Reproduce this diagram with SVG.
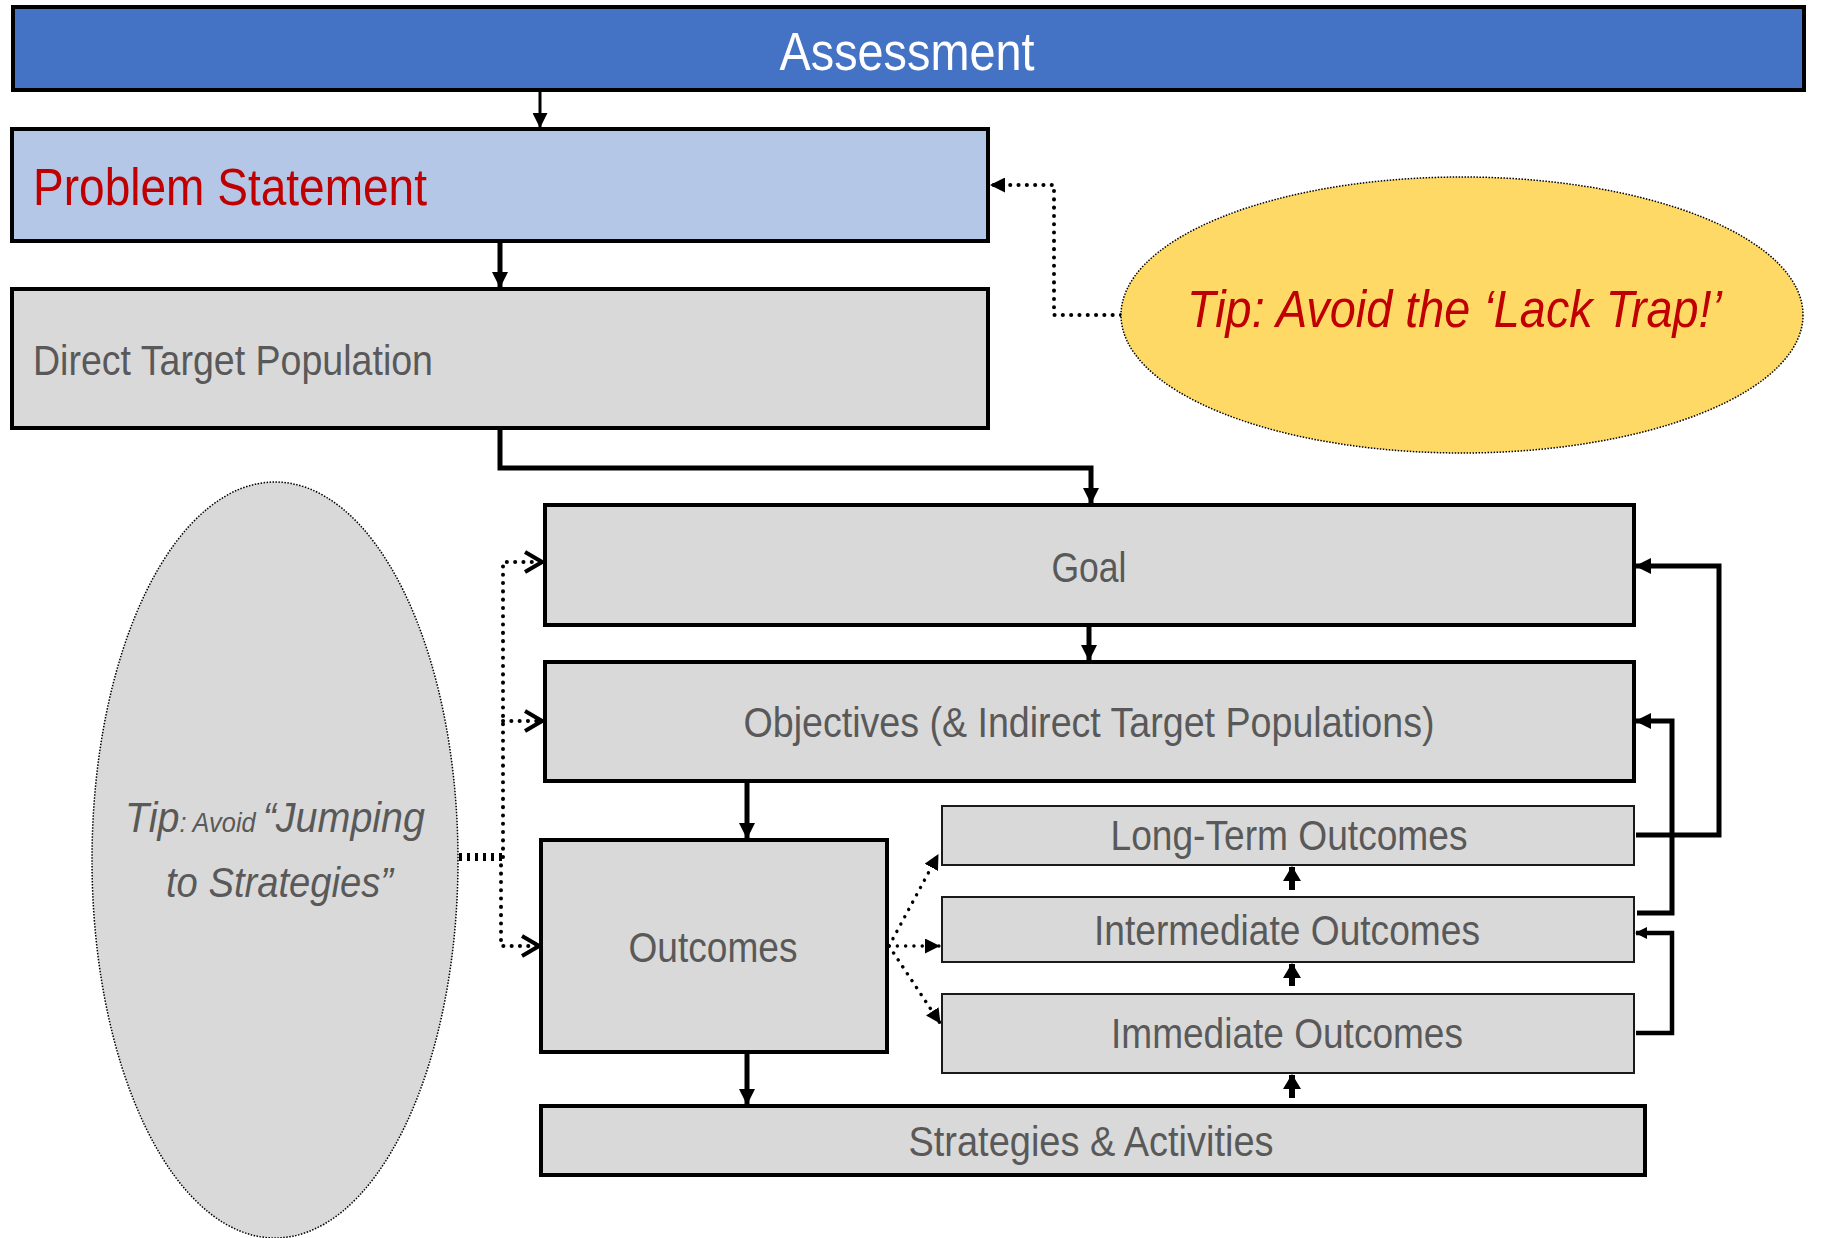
<svg xmlns="http://www.w3.org/2000/svg" width="1821" height="1238" viewBox="0 0 1821 1238">
<style>
.box{stroke:#000;stroke-width:4}
.gray{fill:#D9D9D9}
.thin{fill:#D9D9D9;stroke:#1a1a1a;stroke-width:2}
.lbl{font-family:"Liberation Sans",Arial,sans-serif;fill:#595959;font-size:42px}
.c{text-anchor:middle}
.solid{fill:none;stroke:#000;stroke-width:5}
.dot{fill:none;stroke:#000;stroke-width:4;stroke-linecap:round;stroke-dasharray:0.1 8.2}
.edge{stroke:#000;stroke-width:1.5;stroke-dasharray:1.5 1.5}
</style>
<defs>
<marker id="ah" markerUnits="userSpaceOnUse" viewBox="0 0 16 16" markerWidth="16" markerHeight="16" refX="15" refY="8" orient="auto"><path d="M0,0 L16,8 L0,16 z" fill="#000"/></marker>
<marker id="ahm" markerUnits="userSpaceOnUse" viewBox="0 0 15 15" markerWidth="15" markerHeight="15" refX="14" refY="7.5" orient="auto"><path d="M0,0 L15,7.5 L0,15 z" fill="#000"/></marker>
<marker id="ahu" markerUnits="userSpaceOnUse" viewBox="0 0 15 18" markerWidth="15" markerHeight="18" refX="14" refY="9" orient="auto"><path d="M0,0 L15,9 L0,18 z" fill="#000"/></marker>
<marker id="ahs" markerUnits="userSpaceOnUse" viewBox="0 0 12 12" markerWidth="12" markerHeight="12" refX="11" refY="6" orient="auto"><path d="M0,0 L12,6 L0,12 z" fill="#000"/></marker>
<marker id="chev" markerUnits="userSpaceOnUse" viewBox="0 0 20 24" markerWidth="20" markerHeight="24" refX="18" refY="12" orient="auto"><path d="M1,2 L18,12 L1,22" fill="none" stroke="#000" stroke-width="4"/></marker>
</defs>

<g id="connectors">
<path class="solid" style="stroke-width:3" d="M540 92 V127" marker-end="url(#ahm)"/>
<path class="solid" d="M500 242 V287" marker-end="url(#ah)"/>
<path class="solid" d="M500 428 V468 H1091 V503" marker-end="url(#ah)"/>
<path class="solid" d="M1089 626 V660" marker-end="url(#ah)"/>
<path class="solid" d="M747 782 V838" marker-end="url(#ah)"/>
<path class="solid" d="M747 1053 V1104" marker-end="url(#ah)"/>
<path class="solid" style="stroke-width:6" d="M1292 1098 V1075" marker-end="url(#ahu)"/>
<path class="solid" style="stroke-width:6" d="M1292 986 V964" marker-end="url(#ahu)"/>
<path class="solid" style="stroke-width:6" d="M1292 890 V867" marker-end="url(#ahu)"/>
<path class="solid" d="M1636 835 H1719 V566 H1636" marker-end="url(#ah)"/>
<path class="solid" d="M1637 913 H1672 V721 H1636" marker-end="url(#ah)"/>
<path class="solid" style="stroke-width:4.5" d="M1636 1033 H1672 V933 H1636" marker-end="url(#ahs)"/>
<path class="dot" d="M1121 315 H1054 V185 H991" marker-end="url(#ahm)"/>
<path fill="none" stroke="#000" stroke-width="8" stroke-dasharray="3 5" d="M459 857 H503"/>
<path class="dot" d="M503 857 V562 H542" marker-end="url(#chev)"/>
<path class="dot" d="M503 721 H542" marker-end="url(#chev)"/>
<path class="dot" d="M501 857 V946 H539" marker-end="url(#chev)"/>
<path class="dot" style="stroke-width:3.4" d="M889 946 L938 855" marker-end="url(#ahm)"/>
<path class="dot" style="stroke-width:3.4" d="M889 946 H939" marker-end="url(#ahm)"/>
<path class="dot" style="stroke-width:3.4" d="M889 946 L940 1023" marker-end="url(#ahm)"/>
</g>

<g id="assessment">
<rect class="box" x="13" y="7" width="1791" height="83" fill="#4472C4"/>
<text x="907" y="70" font-family="Liberation Sans,Arial,sans-serif" font-size="54" fill="#FFFFFF" text-anchor="middle" textLength="255" lengthAdjust="spacingAndGlyphs">Assessment</text>
</g>

<g id="problem-statement">
<rect class="box" x="12" y="129" width="976" height="112" fill="#B4C7E7"/>
<text x="33" y="205" font-family="Liberation Sans,Arial,sans-serif" font-size="51" fill="#C00000" textLength="394" lengthAdjust="spacingAndGlyphs">Problem Statement</text>
</g>

<g id="direct-target-population">
<rect class="box gray" x="12" y="289" width="976" height="139"/>
<text class="lbl" x="33" y="375" textLength="400" lengthAdjust="spacingAndGlyphs">Direct Target Population</text>
</g>

<g id="lack-trap-tip">
<ellipse class="edge" cx="1462" cy="315" rx="341" ry="138" fill="#FFD966"/>
<text x="1187" y="327" font-family="Liberation Sans,Arial,sans-serif" font-size="51" font-style="italic" fill="#C00000" textLength="535" lengthAdjust="spacingAndGlyphs">Tip: Avoid the ‘Lack Trap!’</text>
</g>

<g id="jumping-tip">
<ellipse class="edge" cx="275" cy="860" rx="183" ry="378" fill="#D9D9D9"/>
<text class="lbl" x="125" y="832" font-style="italic" font-size="40" textLength="300" lengthAdjust="spacingAndGlyphs">Tip<tspan font-size="27">: Avoid </tspan>“Jumping</text>
<text class="lbl" x="166" y="897" font-style="italic" font-size="40" textLength="227" lengthAdjust="spacingAndGlyphs">to Strategies”</text>
</g>

<g id="goal">
<rect class="box gray" x="545" y="505" width="1089" height="120"/>
<text class="lbl c" x="1089" y="582" textLength="75" lengthAdjust="spacingAndGlyphs">Goal</text>
</g>

<g id="objectives">
<rect class="box gray" x="545" y="662" width="1089" height="119"/>
<text class="lbl c" x="1089" y="737" textLength="691" lengthAdjust="spacingAndGlyphs">Objectives (&amp; Indirect Target Populations)</text>
</g>

<g id="outcomes">
<rect class="box gray" x="541" y="840" width="346" height="212"/>
<text class="lbl c" x="713" y="962" textLength="169" lengthAdjust="spacingAndGlyphs">Outcomes</text>
</g>

<g id="long-term-outcomes">
<rect class="thin" x="942" y="806" width="692" height="59"/>
<text class="lbl c" x="1289" y="850" textLength="357" lengthAdjust="spacingAndGlyphs">Long-Term Outcomes</text>
</g>

<g id="intermediate-outcomes">
<rect class="thin" x="942" y="897" width="692" height="65"/>
<text class="lbl c" x="1287" y="945" textLength="386" lengthAdjust="spacingAndGlyphs">Intermediate Outcomes</text>
</g>

<g id="immediate-outcomes">
<rect class="thin" x="942" y="994" width="692" height="79"/>
<text class="lbl c" x="1287" y="1048" textLength="352" lengthAdjust="spacingAndGlyphs">Immediate Outcomes</text>
</g>

<g id="strategies-activities">
<rect class="box gray" x="541" y="1106" width="1104" height="69"/>
<text class="lbl c" x="1091" y="1156" textLength="365" lengthAdjust="spacingAndGlyphs">Strategies &amp; Activities</text>
</g>
</svg>
